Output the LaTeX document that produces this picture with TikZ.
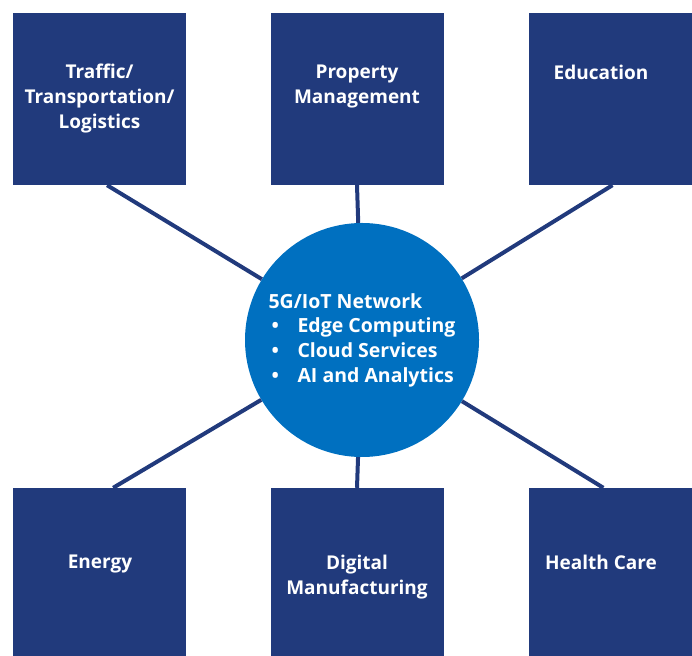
\documentclass[tikz,border=0pt]{standalone}
\usepackage{fontspec}
\setmainfont{Open Sans}
\definecolor{navy}{RGB}{33,58,124}
\definecolor{hubblue}{RGB}{0,112,192}
\begin{document}
\begin{tikzpicture}[x=1pt,y=1pt,
  box/.style={fill=navy,minimum width=173pt,minimum height=172pt,inner sep=0pt},
  boxtext/.style={text=white,align=center,font=\bfseries\fontsize{19}{25}\selectfont},
  hub/.style={circle,fill=hubblue,minimum size=234pt,inner sep=0pt,text=white,align=left,
    font=\bfseries\fontsize{19.5}{24.7}\selectfont},
  link/.style={draw=navy,line width=4pt}]
\clip (0,0) rectangle (692,655);

% The six application areas
\node[box] (tl) at (99.5,556) {};
\node[box] (tm) at (357,556) {};
\node[box] (tr) at (615.5,556) {};
\node[box] (bl) at (99.5,81) {};
\node[box] (bm) at (357,81) {};
\node[box] (br) at (615.5,81) {};

% Their labels
\node[boxtext] (tltext) at (99.5,556) {Traffic/\\Transportation/\\Logistics};
\node[boxtext] (tmtext) at (357,568) {Property\\Management};
\node[boxtext] (trtext) at (601,583) {Education};
\node[boxtext] (bltext) at (100,91) {Energy};
\node[boxtext] (bmtext) at (357,78) {Digital\\Manufacturing};
\node[boxtext] (brtext) at (601,93) {Health Care};

% The network in the middle
\node[hub] (hub) at (362,315) {5G/IoT Network\\
  \makebox[29pt][l]{\hspace{3pt}•}Edge Computing\\
  \makebox[29pt][l]{\hspace{3pt}•}Cloud Services\\
  \makebox[29pt][l]{\hspace{3pt}•}AI and Analytics};

% Spokes
\draw[link] (tl.-85) -- (hub);
\draw[link] (tm.south) -- (hub);
\draw[link] (tr.-92) -- (hub);
\draw[link] (bl.81) -- (hub);
\draw[link] (bm.north) -- (hub);
\draw[link] (br.98) -- (hub);

\end{tikzpicture}
\end{document}
